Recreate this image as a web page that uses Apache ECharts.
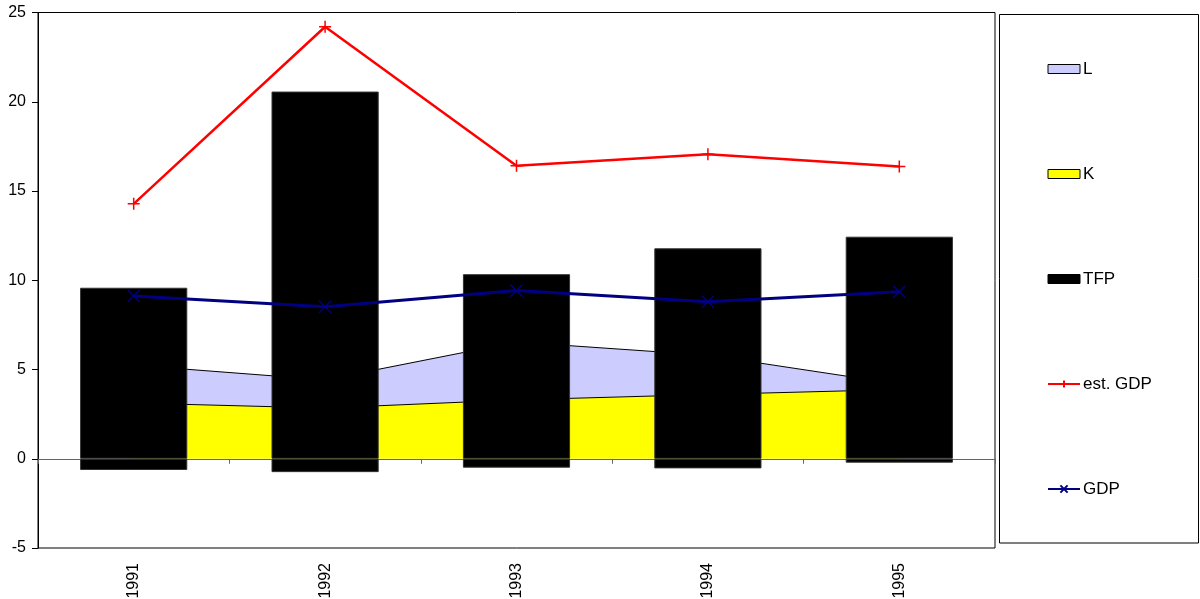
<!DOCTYPE html>
<html>
<head>
<meta charset="utf-8">
<script src="https://cdn.jsdelivr.net/npm/echarts@6/dist/echarts.min.js"></script>
<style>
html,body{margin:0;padding:0;background:#fff;}
#chart{width:1200px;height:599px;}
</style>
</head>
<body>
<div id="chart"></div>
<script>
const years = ['1991', '1992', '1993', '1994', '1995'];
const K = [3.12, 2.84, 3.30, 3.60, 3.88];
const L = [2.12, 1.58, 3.24, 2.20, 0.30];
const tfpTop = [9.58, 20.57, 10.34, 11.79, 12.44];
const tfpBottom = [-0.63, -0.75, -0.50, -0.54, -0.22];
const estGDP = [14.28, 24.20, 16.42, 17.06, 16.37];
const GDP = [9.12, 8.52, 9.42, 8.80, 9.36];
const yTicks = [-5, 0, 5, 10, 15, 20, 25];

const FONT = 'Liberation Sans, Arial, sans-serif';
const plusPath = 'path://M0,5L10,5M5,0L5,10';
const crossPath = 'path://M0,0L10,10M10,0L0,10';

const chart = echarts.init(document.getElementById('chart'));
chart.setOption({
  animation: false,
  backgroundColor: '#fff',
  grid: {
    left: 38, right: 205, top: 12.5, bottom: 51,
    outerBoundsMode: 'none',
    containLabel: false,
    show: true, borderColor: '#000', borderWidth: 1, backgroundColor: 'transparent'
  },
  legend: {
    orient: 'vertical',
    left: 1047, top: 59,
    padding: 0,
    itemWidth: 32, itemHeight: 9,
    itemGap: 85,
    textStyle: { fontFamily: FONT, fontSize: 17, color: '#000', lineHeight: 20, padding: [0, 0, 0, -2] },
    data: [
      { name: 'L', icon: 'rect', itemStyle: { color: '#CCCCFF', borderColor: '#000', borderWidth: 1 } },
      { name: 'K', icon: 'rect', itemStyle: { color: '#FFFF00', borderColor: '#000', borderWidth: 1 } },
      { name: 'TFP', icon: 'rect', itemStyle: { color: '#000', borderColor: '#000', borderWidth: 1 } },
      { name: 'est. GDP' },
      { name: 'GDP' }
    ]
  },
  graphic: [{
    type: 'rect',
    shape: { x: 999.5, y: 14.5, width: 199, height: 528.5 },
    style: { fill: 'none', stroke: '#000', lineWidth: 1 },
    z: 0
  }],
  xAxis: [{
    type: 'category',
    data: years,
    boundaryGap: true,
    axisLine: { show: true, onZero: true, lineStyle: { color: '#666', width: 1 } },
    axisTick: { show: true, length: 5, lineStyle: { color: '#666' } },
    axisLabel: { show: false },
    splitLine: { show: false }
  }, {
    type: 'category',
    data: years,
    position: 'bottom',
    boundaryGap: true,
    axisLine: { show: false, onZero: false },
    axisTick: { show: false },
    axisLabel: { show: true, rotate: 90, margin: 15, fontFamily: FONT, fontSize: 16, color: '#000' },
    splitLine: { show: false }
  }],
  yAxis: {
    type: 'value',
    min: yTicks[0], max: yTicks[yTicks.length - 1], interval: 5,
    axisLine: { show: true, lineStyle: { color: '#000', width: 1 } },
    axisTick: { show: true, length: 6, lineStyle: { color: '#000' } },
    axisLabel: { fontFamily: FONT, fontSize: 16, color: '#000', margin: 12 },
    splitLine: { show: false }
  },
  series: [
    {
      name: 'K', type: 'line', stack: 'area', data: K, z: 1,
      symbol: 'none', lineStyle: { color: '#000', width: 1 },
      itemStyle: { color: '#FFFF00' },
      areaStyle: { color: '#FFFF00', opacity: 1 }
    },
    {
      name: 'L', type: 'line', stack: 'area', data: L, z: 1,
      symbol: 'none', lineStyle: { color: '#000', width: 1 },
      itemStyle: { color: '#CCCCFF' },
      areaStyle: { color: '#CCCCFF', opacity: 1 }
    },
    {
      name: 'TFP', type: 'bar', stack: 'tfp', data: tfpTop, z: 2,
      barCategoryGap: '44%',
      itemStyle: { color: '#000', borderColor: '#333', borderWidth: 1 }
    },
    {
      name: 'TFP', type: 'bar', stack: 'tfp', data: tfpBottom, z: 2,
      barCategoryGap: '44%',
      itemStyle: { color: '#000', borderColor: '#333', borderWidth: 1 }
    },
    {
      name: 'est. GDP', type: 'line', data: estGDP, z: 3,
      symbol: plusPath, symbolSize: 12,
      lineStyle: { color: '#FF0000', width: 2.5 },
      itemStyle: { color: '#FF0000', borderColor: '#FF0000', borderWidth: 1.5 }
    },
    {
      name: 'GDP', type: 'line', data: GDP, z: 3,
      symbol: crossPath, symbolSize: 12,
      lineStyle: { color: '#000080', width: 3 },
      itemStyle: { color: '#000080', borderColor: '#000080', borderWidth: 1.5 }
    }
  ]
});
</script>
</body>
</html>
